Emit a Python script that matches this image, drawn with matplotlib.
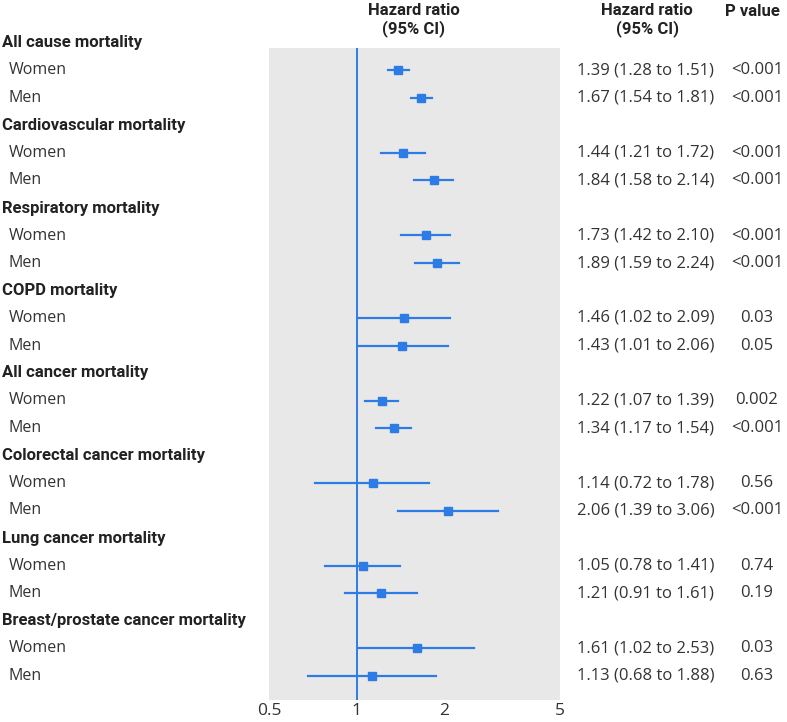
import matplotlib
matplotlib.use("Agg")
import matplotlib.pyplot as plt
import matplotlib.transforms as mtransforms

plt.rcParams['font.family'] = ['Open Sans', 'DejaVu Sans']
bold_family = ['Roboto', 'DejaVu Sans']

groups = ["All cause mortality", "Cardiovascular mortality", "Respiratory mortality",
          "COPD mortality", "All cancer mortality", "Colorectal cancer mortality",
          "Lung cancer mortality", "Breast/prostate cancer mortality"]
sexes = ["Women", "Men"]
hr = [1.39, 1.67, 1.44, 1.84, 1.73, 1.89, 1.46, 1.43, 1.22, 1.34, 1.14, 2.06, 1.05, 1.21, 1.61, 1.13]
lo = [1.28, 1.54, 1.21, 1.58, 1.42, 1.59, 1.02, 1.01, 1.07, 1.17, 0.72, 1.39, 0.78, 0.91, 1.02, 0.68]
hi = [1.51, 1.81, 1.72, 2.14, 2.10, 2.24, 2.09, 2.06, 1.39, 1.54, 1.78, 3.06, 1.41, 1.61, 2.53, 1.88]
pvals = ["<0.001", "<0.001", "<0.001", "<0.001", "<0.001", "<0.001", "0.03", "0.05",
         "0.002", "<0.001", "0.56", "<0.001", "0.74", "0.19", "0.03", "0.63"]
xticks = [0.5, 1, 2, 5]
xticklabels = ["0.5", "1", "2", "5"]

W, H = 787, 722
fig = plt.figure(figsize=(W / 100, H / 100), dpi=100)
ax_l, ax_r, ax_t, ax_b = 269, 560, 48, 700
ax = fig.add_axes([ax_l / W, 1 - ax_b / H, (ax_r - ax_l) / W, (ax_b - ax_t) / H])
ax.set_facecolor("#e8e8e8")
for s in ax.spines.values():
    s.set_visible(False)

blue = "#2d7ce6"
y0, dy = 43, 27.5
ax.set_xscale("log")
ax.set_xlim(0.5, 5)
ax.set_ylim((ax_b - y0) / dy, (ax_t - y0) / dy)
ax.set_xticks(xticks)
ax.set_xticklabels(xticklabels)
ax.xaxis.set_minor_locator(matplotlib.ticker.NullLocator())
ax.tick_params(axis="x", length=0, labelsize=12.5, colors="#333333", pad=2)
ax.set_yticks([])

ax.axvline(1, color=blue, lw=1.4, zorder=2)

trans_l = mtransforms.blended_transform_factory(fig.transFigure, ax.transData)
fs = 11.5
fsb = 12
idx = 0
for g_i, g in enumerate(groups):
    row = g_i * 3
    ax.text(2 / W, row, g, transform=trans_l, fontsize=fsb, fontweight="bold",
            family=bold_family, color="#222222", va="center", ha="left", clip_on=False)
    for s_i, s in enumerate(sexes):
        r = row + 1 + s_i
        ax.text(9 / W, r, s, transform=trans_l, fontsize=fs, color="#333333",
                va="center", ha="left", clip_on=False)
        ax.plot([lo[idx], hi[idx]], [r, r], color=blue, lw=1.6, zorder=3)
        ax.plot([hr[idx]], [r], marker="s", ms=5.5, color=blue, zorder=4, lw=0)
        ax.text(577 / W, r, f"{hr[idx]:.2f} ({lo[idx]:.2f} to {hi[idx]:.2f})",
                transform=trans_l, fontsize=12, color="#333333", va="center",
                ha="left", clip_on=False)
        ax.text(757 / W, r, pvals[idx], transform=trans_l, fontsize=12,
                color="#333333", va="center", ha="center", clip_on=False)
        idx += 1

fig.text(414 / W, 1 - 20 / H, "Hazard ratio\n(95% CI)", fontsize=fsb, fontweight="bold",
         family=bold_family, color="#222222", ha="center", va="center", linespacing=1.15)
fig.text(647 / W, 1 - 20 / H, "Hazard ratio\n(95% CI)", fontsize=fsb, fontweight="bold",
         family=bold_family, color="#222222", ha="center", va="center", linespacing=1.15)
fig.text(752 / W, 1 - 11 / H, "P value", fontsize=fsb, fontweight="bold",
         family=bold_family, color="#222222", ha="center", va="center")

fig.savefig("out.png", dpi=100)
